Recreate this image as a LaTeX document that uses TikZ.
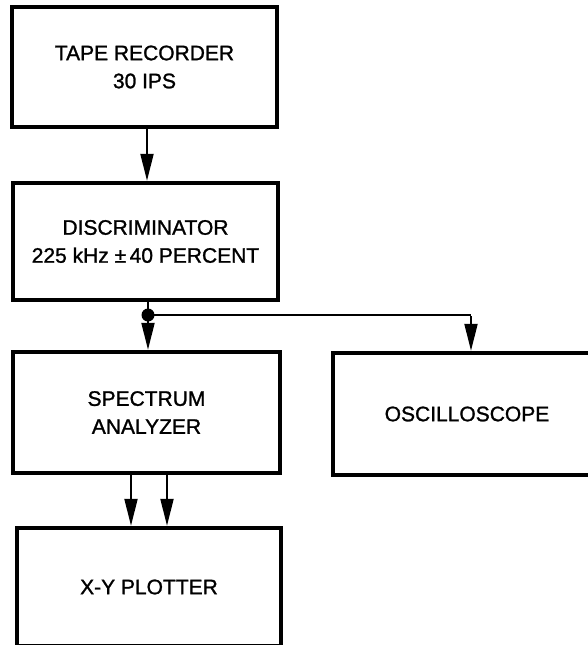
\documentclass[tikz,border=0pt]{standalone}
\usepackage{fontspec}
\setmainfont{Liberation Sans}
\newfontfamily\heavyfont{Liberation Sans}[FakeBold=1.2]
\usetikzlibrary{arrows.meta}
\begin{document}
\begin{tikzpicture}[x=1pt,y=-1pt,
  blockbox/.style={draw=black, line width=4.5pt, line join=miter, rectangle, inner sep=0pt,
    align=center, font=\heavyfont\fontsize{21}{28}\selectfont},
  conn/.style={draw=black, line width=2pt, -{Triangle[width=13pt,length=27pt]}},
  plainline/.style={draw=black, line width=2pt}]
\clip (0,0) rectangle (588,645);
\fill[white] (0,0) rectangle (588,645);
\node[blockbox, minimum width=265pt, minimum height=120pt] (tape) at (144.5,67) {TAPE RECORDER\\30 IPS};
\node[blockbox, minimum width=265pt, minimum height=117pt] (disc) at (145.5,241.5) {DISCRIMINATOR\\225 kHz ±\,40 PERCENT};
\node[blockbox, minimum width=267pt, minimum height=121pt] (spec) at (146.5,412.5) {SPECTRUM\\ANALYZER};
\node[blockbox, minimum width=268pt, minimum height=122pt] (osc) at (467,414) {OSCILLOSCOPE};
\node[blockbox, minimum width=264pt, minimum height=118pt] (xy) at (149,587) {X-Y PLOTTER};
\coordinate (j) at (148,315);
\coordinate (k) at (471,315);
\draw[conn] ([xshift=2.5pt]tape.south) -- ([xshift=2.5pt]tape.south |- disc.north);
\draw[plainline] (disc.south -| j) -- (j);
\fill[black] (j) circle (6.5pt);
\draw[conn] (j) -- (j |- spec.north);
\draw[plainline] (j) -- (k);
\draw[conn] ([yshift=-1pt]k) -- (k |- osc.north);
\draw[conn] ([xshift=-15.5pt]spec.south) -- ([xshift=-15.5pt]spec.south |- xy.north);
\draw[conn] ([xshift=20.5pt]spec.south) -- ([xshift=20.5pt]spec.south |- xy.north);
\end{tikzpicture}
\end{document}
